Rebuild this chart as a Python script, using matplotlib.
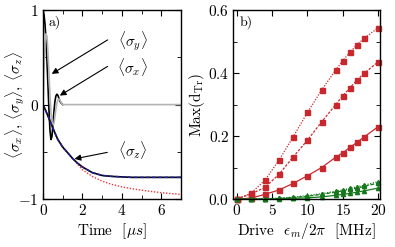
import matplotlib
matplotlib.use("Agg")
import matplotlib.pyplot as plt
from matplotlib.ticker import MultipleLocator

plt.rcParams['font.family'] = 'serif'
plt.rcParams['font.serif'] = ['cmr10', 'DejaVu Serif']
plt.rcParams['mathtext.fontset'] = 'cm'
plt.rcParams['axes.unicode_minus'] = False
plt.rcParams['axes.formatter.use_mathtext'] = True

# panel a) data
t_x = [0, 0.05, 0.1, 0.15, 0.2, 0.25, 0.3, 0.35, 0.4, 0.45, 0.5, 0.55, 0.6,
       0.65, 0.7, 0.75, 0.8, 0.85, 0.9, 0.95, 1.0]
sig_x = [1.0, 0.95, 0.85, 0.68, 0.45, 0.2, -0.06, -0.27, -0.37, -0.34, -0.22, -0.08, 0.03,
         0.09, 0.11, 0.1, 0.07, 0.04, 0.02, 0.01, 0.0]
t_y = [0, 0.05, 0.1, 0.15, 0.2, 0.25, 0.3, 0.35, 0.4, 0.45, 0.5, 0.55, 0.6,
       0.65, 0.7, 0.75, 0.8, 0.85, 0.9, 0.95, 1.0, 1.1, 7.0]
sig_y = [0.0, 0.4, 0.66, 0.75, 0.72, 0.55, 0.33, 0.1, -0.08, -0.18, -0.22, -0.2, -0.13,
         -0.05, 0.01, 0.05, 0.06, 0.05, 0.03, 0.01, 0.0, 0.0, 0.0]
t_z = [0, 0.25, 0.5, 0.75, 1.0, 1.25, 1.5, 1.75, 2.0, 2.5, 3.0, 3.5, 4.0, 4.5, 5.0, 5.5, 6.0, 6.5, 7.0]
sig_z = [0, -0.12, -0.25, -0.37, -0.45, -0.51, -0.57, -0.62, -0.66, -0.72, -0.75, -0.76, -0.765,
         -0.77, -0.77, -0.77, -0.77, -0.77, -0.77]
sig_z_ref = [0, -0.12, -0.25, -0.37, -0.45, -0.51, -0.57, -0.63, -0.69, -0.76, -0.81, -0.845, -0.87,
             -0.89, -0.905, -0.92, -0.932, -0.942, -0.95]

# panel b) data
drive = [0, 2, 4, 6, 8, 10, 12, 14, 15, 16, 17, 18, 20]
red_top = [0, 0.018, 0.06, 0.124, 0.198, 0.275, 0.346, 0.41, 0.44, 0.466, 0.49, 0.51, 0.544]
red_mid = [0, 0.016, 0.037, 0.079, 0.134, 0.187, 0.245, 0.30, 0.328, 0.353, 0.378, 0.399, 0.436]
red_low = [0, 0.003, 0.015, 0.029, 0.05, 0.074, 0.10, 0.133, 0.147, 0.164, 0.18, 0.197, 0.23]
green_top = [0, 0, 0.001, 0.003, 0.006, 0.011, 0.017, 0.025, 0.029, 0.034, 0.039, 0.044, 0.055]
green_mid = [0, 0, 0.001, 0.002, 0.005, 0.009, 0.015, 0.022, 0.026, 0.031, 0.035, 0.040, 0.051]
green_low = [0, 0, 0, 0.001, 0.002, 0.004, 0.007, 0.012, 0.015, 0.018, 0.022, 0.026, 0.035]

fig = plt.figure(figsize=(3.95, 2.47), dpi=100)
ax1 = fig.add_axes([0.109, 0.194, 0.349, 0.765])
ax2 = fig.add_axes([0.591, 0.194, 0.371, 0.765])

fs = 11
red = '#c8282d'
green = '#16781c'

# a)
ax1.plot(t_x, sig_x, color='k', lw=1.2)
ax1.plot(t_y, sig_y, color='#b4b4b4', lw=1.2)
ax1.plot(t_z, sig_z_ref, color='#e8383a', lw=1.0, ls=(0, (1, 1.2)))
ax1.plot(t_z, sig_z, color='k', lw=1.2)
ax1.plot(t_z, sig_z, color='#1f1f9a', lw=1.1, ls=(0, (2.5, 1.5)))
ax1.set_xlim(0, 7)
ax1.set_ylim(-1, 1)
ax1.xaxis.set_major_locator(MultipleLocator(2))
ax1.xaxis.set_minor_locator(MultipleLocator(1))
ax1.yaxis.set_major_locator(MultipleLocator(1))
ax1.yaxis.set_minor_locator(MultipleLocator(0.5))
ax1.set_xlabel(r'Time  [$\mu s$]', fontsize=fs, labelpad=2)
ax1.set_ylabel(r'$\langle\sigma_x\rangle$, $\langle\sigma_y\rangle$, $\langle\sigma_z\rangle$',
               fontsize=fs, va='center')
ax1.yaxis.set_label_coords(-0.2, 0.5)
ax1.text(0.04, 0.97, 'a)', transform=ax1.transAxes, fontsize=10, va='top', ha='left')

arrow = dict(arrowstyle='-|>', color='k', lw=0.8, mutation_scale=9)
ax1.annotate('', xy=(0.32, 0.31), xytext=(3.4, 0.70), arrowprops=arrow)
ax1.annotate('', xy=(0.73, 0.08), xytext=(3.4, 0.42), arrowprops=arrow)
ax1.annotate('', xy=(1.46, -0.58), xytext=(3.4, -0.50), arrowprops=arrow)
ax1.text(4.55, 0.67, r'$\langle\sigma_y\rangle$', fontsize=fs, ha='center', va='center')
ax1.text(4.55, 0.40, r'$\langle\sigma_x\rangle$', fontsize=fs, ha='center', va='center')
ax1.text(4.55, -0.48, r'$\langle\sigma_z\rangle$', fontsize=fs, ha='center', va='center')

# b)
ms = 3.6
ax2.plot(drive, red_top, color=red, lw=0.9, ls=(0, (1, 1.2)), marker='s', ms=ms, clip_on=False)
ax2.plot(drive, red_mid, color=red, lw=0.9, ls=(0, (2, 1.2)), marker='s', ms=ms, clip_on=False)
ax2.plot(drive, red_low, color=red, lw=0.9, ls='-', marker='s', ms=ms, clip_on=False)
ax2.plot(drive, green_top, color=green, lw=0.9, ls=(0, (1, 1.2)), marker='^', ms=3, clip_on=False)
ax2.plot(drive, green_mid, color=green, lw=0.9, ls=(0, (3, 1.5)), marker='^', ms=3, clip_on=False)
ax2.plot(drive, green_low, color=green, lw=0.9, ls='-', marker='^', ms=3, clip_on=False)
ax2.set_xlim(-0.45, 20.25)
ax2.set_ylim(0, 0.6)
ax2.xaxis.set_major_locator(MultipleLocator(5))
ax2.yaxis.set_major_locator(MultipleLocator(0.2))
ax2.yaxis.set_minor_locator(MultipleLocator(0.1))
ax2.set_xlabel(r'Drive  $\epsilon_m/2\pi$  [MHz]', fontsize=fs, labelpad=2)
ax2.set_ylabel(r'Max(d$_{\rm Tr}$)', fontsize=fs, va='center')
ax2.yaxis.set_label_coords(-0.25, 0.5)
ax2.text(0.04, 0.97, 'b)', transform=ax2.transAxes, fontsize=10, va='top', ha='left')

for ax in (ax1, ax2):
    ax.tick_params(which='both', direction='in', top=True, right=True, labelsize=fs, pad=3)
    ax.tick_params(which='major', length=4)
    ax.tick_params(which='minor', length=3)
    for s in ax.spines.values():
        s.set_linewidth(1.0)

fig.savefig('out.png', dpi=100)
